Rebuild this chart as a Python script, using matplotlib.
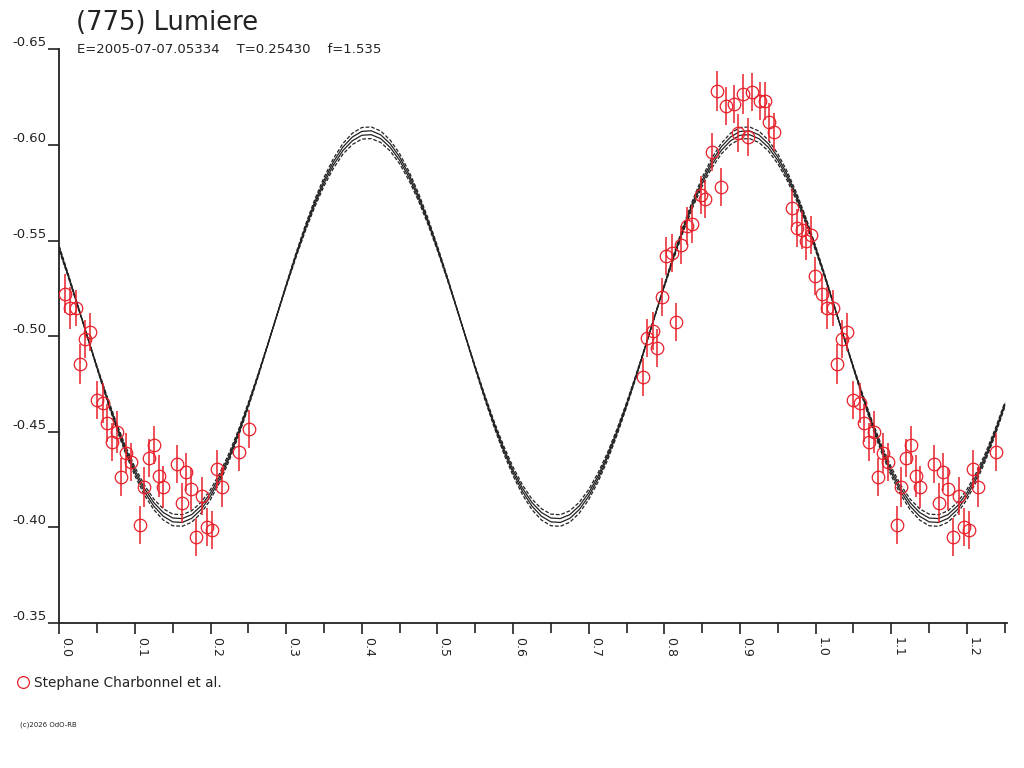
import numpy as np
import matplotlib
matplotlib.use("Agg")
import matplotlib.pyplot as plt
from matplotlib.lines import Line2D

plt.rcParams["font.family"] = ["DejaVu Sans"]

# --- colours ---
RED = "#e8202a"
CURVE = "#222222"
TEXT = "#222222"

TITLE = "(775) Lumiere"
SUBTITLE = "E=2005-07-07.05334    T=0.25430    f=1.535"
OBSERVER = "Stephane Charbonnel et al."
COPYRIGHT = "(c)2026 OdO-RB"

# observations: phase in [0, 1), reduced magnitude, error
PHASE = [
    0.0079, 0.0145, 0.0225, 0.0277, 0.0343, 0.0410, 0.0500, 0.0580,
    0.0634, 0.0700, 0.0766, 0.0819, 0.0885, 0.0951, 0.1070, 0.1123,
    0.1189, 0.1255, 0.1321, 0.1374, 0.1559, 0.1625, 0.1678, 0.1744,
    0.1810, 0.1889, 0.1955, 0.2021, 0.2087, 0.2153, 0.2378, 0.2505,
    0.7715, 0.7768, 0.7847, 0.7900, 0.7966, 0.8018, 0.8098, 0.8151,
    0.8217, 0.8296, 0.8362, 0.8481, 0.8534, 0.8626, 0.8692, 0.8745,
    0.8811, 0.8917, 0.8970, 0.9036, 0.9102, 0.9155, 0.9260, 0.9326,
    0.9379, 0.9445, 0.9683, 0.9749, 0.9815, 0.9868, 0.9934, 0.9985,
]
MAG = [
    -0.5223, -0.5147, -0.5147, -0.4854, -0.4985, -0.5021, -0.4667, -0.4651,
    -0.4546, -0.4447, -0.4499, -0.4264, -0.4389, -0.4343, -0.4013, -0.4211,
    -0.4364, -0.4431, -0.4269, -0.4211, -0.4331, -0.4128, -0.4290, -0.4201,
    -0.3950, -0.4164, -0.4002, -0.3987, -0.4305, -0.4211, -0.4395, -0.4515,
    -0.4787, -0.4990, -0.5027, -0.4938, -0.5205, -0.5420, -0.5435, -0.5074,
    -0.5477, -0.5577, -0.5587, -0.5739, -0.5718, -0.5964, -0.6282, -0.5780,
    -0.6204, -0.6215, -0.6063, -0.6267, -0.6043, -0.6277, -0.6230, -0.6230,
    -0.6120, -0.6068, -0.5670, -0.5566, -0.5556, -0.5498, -0.5529, -0.5314,
]
ERR = [
    0.0100, 0.0110, 0.0095, 0.0105, 0.0100, 0.0100, 0.0100, 0.0105,
    0.0100, 0.0100, 0.0110, 0.0100, 0.0105, 0.0100, 0.0100, 0.0105,
    0.0100, 0.0100, 0.0110, 0.0110, 0.0100, 0.0105, 0.0100, 0.0110,
    0.0100, 0.0100, 0.0100, 0.0100, 0.0100, 0.0105, 0.0100, 0.0100,
    0.0100, 0.0100, 0.0100, 0.0100, 0.0100, 0.0100, 0.0100, 0.0100,
    0.0100, 0.0100, 0.0100, 0.0100, 0.0100, 0.0100, 0.0105, 0.0100,
    0.0100, 0.0100, 0.0100, 0.0105, 0.0100, 0.0100, 0.0100, 0.0100,
    0.0100, 0.0100, 0.0100, 0.0100, 0.0100, 0.0100, 0.0100, 0.0100,
]

# fitted lightcurve, sampled every 0.0125 in phase from 0.0 to 1.25
FIT_MAG = [
    -0.5459, -0.5309, -0.5152, -0.4993, -0.4835, -0.4682, -0.4538, -0.4407,
    -0.4292, -0.4196, -0.4120, -0.4068, -0.4039, -0.4036, -0.4057, -0.4103,
    -0.4172, -0.4263, -0.4373, -0.4500, -0.4641, -0.4791, -0.4948, -0.5107,
    -0.5265, -0.5418, -0.5562, -0.5693, -0.5808, -0.5904, -0.5980, -0.6032,
    -0.6061, -0.6064, -0.6043, -0.5997, -0.5928, -0.5837, -0.5727, -0.5600,
    -0.5459, -0.5309, -0.5152, -0.4993, -0.4835, -0.4682, -0.4538, -0.4407,
    -0.4292, -0.4196, -0.4120, -0.4068, -0.4039, -0.4036, -0.4057, -0.4103,
    -0.4172, -0.4263, -0.4373, -0.4500, -0.4641, -0.4791, -0.4948, -0.5107,
    -0.5265, -0.5418, -0.5562, -0.5693, -0.5808, -0.5904, -0.5980, -0.6032,
    -0.6061, -0.6064, -0.6043, -0.5997, -0.5928, -0.5837, -0.5727, -0.5600,
    -0.5459, -0.5309, -0.5152, -0.4993, -0.4835, -0.4682, -0.4538, -0.4407,
    -0.4292, -0.4196, -0.4120, -0.4068, -0.4039, -0.4036, -0.4057, -0.4103,
    -0.4172, -0.4263, -0.4373, -0.4500, -0.4641,
]
FIT_MEAN = -0.5050
# amplitude scale of the fit and its uncertainty envelope
FIT_SCALE = [1.03, 1.01, 0.99, 0.97]
FIT_STYLE = ["--", "-", "-", "--"]

Y_TICKS = [-0.65, -0.60, -0.55, -0.50, -0.45, -0.40, -0.35]
X_MAJOR = [0.0, 0.1, 0.2, 0.3, 0.4, 0.5, 0.6, 0.7, 0.8, 0.9, 1.0, 1.1, 1.2]
X_MINOR = [0.05, 0.15, 0.25, 0.35, 0.45, 0.55, 0.65, 0.75, 0.85, 0.95, 1.05, 1.15, 1.25]


fig = plt.figure(figsize=(10.24, 7.68), dpi=100)
fig.patch.set_facecolor("white")
ax = fig.add_axes([0.0579, 0.1888, 0.9255, 0.7469])

# fit curves
fit_x = np.linspace(0.0, 1.25, len(FIT_MAG))
fit_y = np.array(FIT_MAG)
for scale, style in zip(FIT_SCALE, FIT_STYLE):
    y = FIT_MEAN + (fit_y - FIT_MEAN) * scale
    line, = ax.plot(fit_x, y, color=CURVE, linewidth=0.9, linestyle=style, zorder=2)
    if style == "--":
        line.set_dashes((3, 1.5))

# observations, phase repeated past 1.0 up to 1.25
phase = np.array(PHASE)
mag = np.array(MAG)
err = np.array(ERR)
wrap = phase + 1.0 <= 1.25
px = np.concatenate([phase, phase[wrap] + 1.0])
py = np.concatenate([mag, mag[wrap]])
pe = np.concatenate([err, err[wrap]])
ax.errorbar(px, py, yerr=pe, fmt="o", ms=9, mfc="none", mec=RED, mew=0.9,
            ecolor=RED, elinewidth=1.1, capsize=0, zorder=3)

ax.set_xlim(0.0, 1.253)
ax.set_ylim(-0.35, -0.65)

for side in ("top", "right"):
    ax.spines[side].set_visible(False)
for side in ("left", "bottom"):
    ax.spines[side].set_linewidth(1.3)
    ax.spines[side].set_color(TEXT)

ax.set_yticks(Y_TICKS)
ax.set_yticklabels([f"{v:.2f}" for v in Y_TICKS])
ax.set_xticks(X_MAJOR)
ax.set_xticklabels([f"{v:.1f}" for v in X_MAJOR])
ax.set_xticks(X_MINOR, minor=True)

ax.tick_params(axis="y", direction="out", length=8, width=1.2, color=TEXT,
               labelsize=9.5, labelcolor=TEXT, pad=1)
ax.tick_params(axis="x", which="major", direction="out", length=8, width=1.2,
               color=TEXT, labelsize=9, labelcolor=TEXT, pad=2)
ax.tick_params(axis="x", which="minor", direction="out", length=7, width=1.2,
               color=TEXT)
for lab in ax.get_yticklabels():
    lab.set_verticalalignment("bottom")
for lab in ax.get_xticklabels():
    lab.set_rotation(-90)
    lab.set_horizontalalignment("left")
    lab.set_verticalalignment("top")

# titles
fig.text(76 / 1024, 1 - 30 / 768, TITLE, fontsize=18.5, color=TEXT, va="baseline")
fig.text(77 / 1024, 1 - 53 / 768, SUBTITLE, fontsize=9.5, color=TEXT, va="baseline")

# legend
handle = Line2D([], [], marker="o", linestyle="none", ms=8.5, mfc="none",
                mec=RED, mew=0.9)
fig.legend([handle], [OBSERVER], loc="center left",
           bbox_to_anchor=(18 / 1024, 1 - 683 / 768), frameon=False,
           fontsize=9.8, handlelength=0.8, handletextpad=0.35,
           borderaxespad=0, borderpad=0, labelcolor=TEXT)

fig.text(20 / 1024, 1 - 726 / 768, COPYRIGHT, fontsize=5, color=TEXT, va="baseline")

fig.savefig("out.png", dpi=100)
